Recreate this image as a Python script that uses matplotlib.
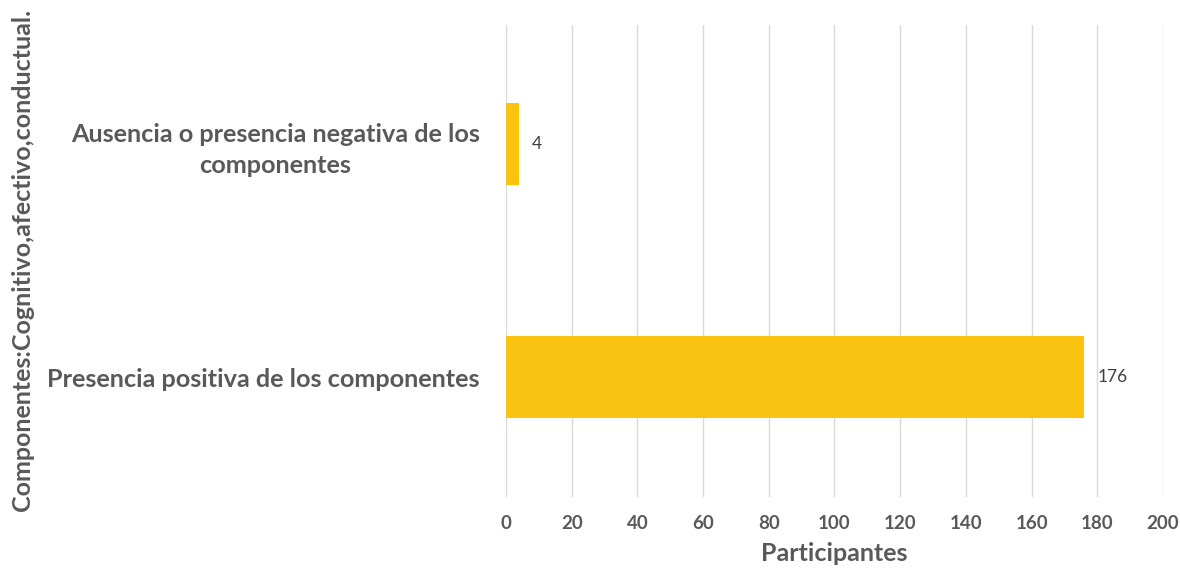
import matplotlib.pyplot as plt

categories = ["Presencia positiva de los componentes",
              "Ausencia o presencia negativa de los\ncomponentes"]
values = [176, 4]
xticks = [0, 20, 40, 60, 80, 100, 120, 140, 160, 180, 200]

plt.rcParams['font.family'] = ['Lato', 'DejaVu Sans']

fig = plt.figure(figsize=(11.8, 5.68), dpi=100)
ax = fig.add_axes([0.4288, 0.125, 0.5568, 0.831])

bars = ax.barh(range(len(categories)), values, height=0.352, color="#FBC311", zorder=3)
for b, v in zip(bars, values):
    ax.text(b.get_width() + 4, b.get_y() + b.get_height() / 2, str(v),
            va="center", ha="left", fontsize=12.5, color="#404040")

ax.set_xlim(0, 200)
ax.set_ylim(-0.515, 1.511)
ax.set_xticks(xticks)
ax.set_xticklabels([str(t) for t in xticks], fontsize=13.5, fontweight="bold", color="#595959")
ax.set_yticks(range(len(categories)))
ax.set_yticklabels(categories, fontsize=18.2, fontweight="bold", color="#595959",
                   multialignment="center", linespacing=1.4)
ax.tick_params(axis="both", length=0)
ax.tick_params(axis="x", pad=13)
ax.tick_params(axis="y", pad=19)
ax.grid(axis="x", color="#d9d9d9", linewidth=1, zorder=0)
for s in ax.spines.values():
    s.set_visible(False)

ax.set_xlabel("Participantes", fontsize=18, fontweight="bold", color="#595959", labelpad=7)
fig.text(0.019, 0.542, "Componentes:Cognitivo,afectivo,conductual.", rotation=90,
         ha="center", va="center", fontsize=18, fontweight="bold", color="#595959")

fig.savefig("out.png", dpi=100)
